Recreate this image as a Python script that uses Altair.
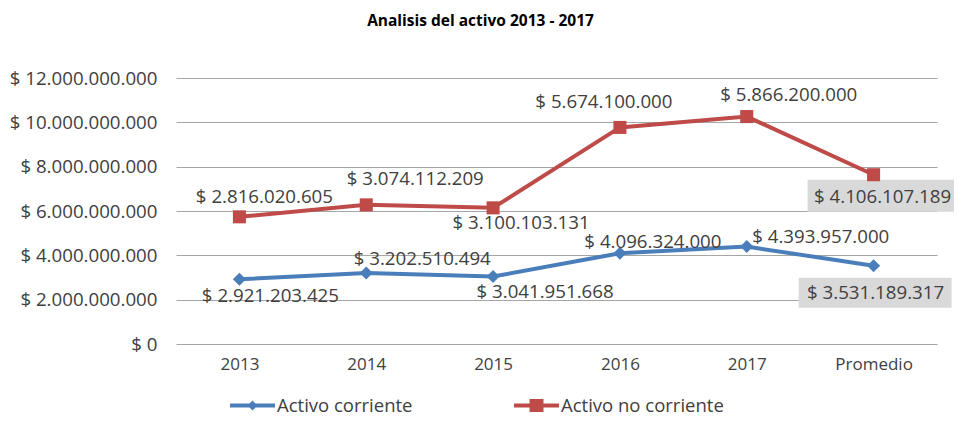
import altair as alt
import pandas as pd

categories = ["2013", "2014", "2015", "2016", "2017", "Promedio"]
series_names = ["Activo corriente", "Activo no corriente"]
activo_corriente = [2921203425, 3202510494, 3041951668, 4096324000, 4393957000, 3531189317]
activo_no_corriente = [2816020605, 3074112209, 3100103131, 5674100000, 5866200000, 4106107189]
y_ticks = [0, 2000000000, 4000000000, 6000000000, 8000000000, 10000000000, 12000000000]
chart_title = "Analisis del activo 2013 - 2017"


def fmt(v):
    return "$ " + f"{v:,.0f}".replace(",", ".")


rows = []
for i, c in enumerate(categories):
    a = activo_corriente[i]
    b = activo_no_corriente[i]
    rows.append(dict(cat=c, series=series_names[0], value=a, pos=a, label=fmt(a)))
    rows.append(dict(cat=c, series=series_names[1], value=b, pos=a + b, label=fmt(b)))
df = pd.DataFrame(rows)

BLUE = "#4A7EBB"
RED = "#BE4B48"
TXT = "#404040"
FONT = "Open Sans"
COLORS = {series_names[0]: BLUE, series_names[1]: RED}
SHAPES = {series_names[0]: "diamond", series_names[1]: "square"}

# label offsets (pixels) relative to each point: style only
OFFSETS = {
    (series_names[0], "2013"): (31, 17),
    (series_names[0], "2014"): (56, -14),
    (series_names[0], "2015"): (52, 15),
    (series_names[0], "2016"): (33, -11),
    (series_names[0], "2017"): (74, -10),
    (series_names[0], "Promedio"): (2, 27),
    (series_names[1], "2013"): (25, -20),
    (series_names[1], "2014"): (49, -26),
    (series_names[1], "2015"): (28, 15),
    (series_names[1], "2016"): (-16, -25),
    (series_names[1], "2017"): (42, -22),
    (series_names[1], "Promedio"): (9, 22),
}
BOX_PATHS = {
    series_names[0]: "M-0.937,0.15L0.975,0.15L0.975,0.525L-0.937,0.525Z",
    series_names[1]: "M-0.825,0.0625L1.075,0.0625L1.075,0.4625L-0.825,0.4625Z",
}

x_enc = alt.X(
    "cat:N",
    sort=categories,
    scale=alt.Scale(domain=categories, padding=0.5),
    axis=alt.Axis(
        title=None, domain=False, ticks=False, labelPadding=12,
        labelFontSize=17, labelFont=FONT, labelColor=TXT, labelAngle=0,
    ),
)
y_enc = alt.Y(
    "pos:Q",
    scale=alt.Scale(domain=[0, 12000000000], nice=False),
    axis=alt.Axis(
        title=None, domain=False, ticks=False, values=y_ticks,
        labelExpr="'$ ' + replace(format(datum.value, ',.0f'), /,/g, '.')",
        labelFontSize=18.7, labelFont=FONT, labelColor=TXT, labelPadding=19,
        grid=True, gridColor="#A6A6A6", gridWidth=1.2,
    ),
)

base = alt.Chart(df)
layers = []
for s in series_names:
    sub = base.transform_filter(alt.datum.series == s)
    layers.append(sub.mark_line(color=COLORS[s], strokeWidth=4).encode(x=x_enc, y=y_enc))
for s in series_names:
    sub = base.transform_filter(alt.datum.series == s)
    layers.append(
        sub.transform_filter(alt.datum.cat == "Promedio")
        .mark_point(filled=True, opacity=1, color="#D9D9D9", shape=BOX_PATHS[s], size=25600, strokeWidth=0)
        .encode(x=x_enc, y=y_enc)
    )
for s in series_names:
    sub = base.transform_filter(alt.datum.series == s)
    layers.append(
        sub.mark_point(filled=True, opacity=1, color=COLORS[s], shape=SHAPES[s], size=170)
        .encode(x=x_enc, y=y_enc)
    )
for (s, c), (dx, dy) in OFFSETS.items():
    layers.append(
        base.transform_filter((alt.datum.series == s) & (alt.datum.cat == c))
        .mark_text(dx=dx, dy=dy, fontSize=18.7, font=FONT, color=TXT, align="center", baseline="middle")
        .encode(x=x_enc, y=y_enc, text="label:N")
    )

LEG_DIAMOND = "M-1,-0.09L1,-0.09L1,0.09L-1,0.09ZM0,-0.22L0.22,0L0,0.22L-0.22,0Z"
LEG_SQUARE = "M-1,-0.09L1,-0.09L1,0.09L-1,0.09ZM-0.31,-0.29L0.31,-0.29L0.31,0.29L-0.31,0.29Z"
leg = alt.Legend(
    title=None, orient="none", legendX=54, legendY=305, direction="horizontal",
    symbolSize=2025, labelFontSize=18.5, labelFont=FONT, labelColor=TXT, labelLimit=400,
    columnPadding=101, labelOffset=2, padding=0, symbolStrokeWidth=0,
)
legend_layer = base.mark_point(filled=True, opacity=1).encode(
    x=x_enc, y=y_enc,
    color=alt.Color("series:N", scale=alt.Scale(domain=series_names, range=[BLUE, RED]), legend=leg),
    shape=alt.Shape("series:N", scale=alt.Scale(domain=series_names, range=[LEG_DIAMOND, LEG_SQUARE]), legend=leg),
).transform_filter("false")
layers.append(legend_layer)

chart = alt.layer(*layers).properties(
    width=761,
    height=266,
    padding={"left": 168, "top": 70, "right": 17, "bottom": 74},
    autosize=alt.AutoSizeParams(type="none"),
    title=alt.TitleParams(
        chart_title, fontSize=15.5, font=FONT, fontWeight="bold", color="#000000",
        anchor="middle", dx=-76, offset=40,
    ),
).configure_view(stroke=None)

chart.save("out.html", embed_options={"renderer": "svg", "actions": False})
